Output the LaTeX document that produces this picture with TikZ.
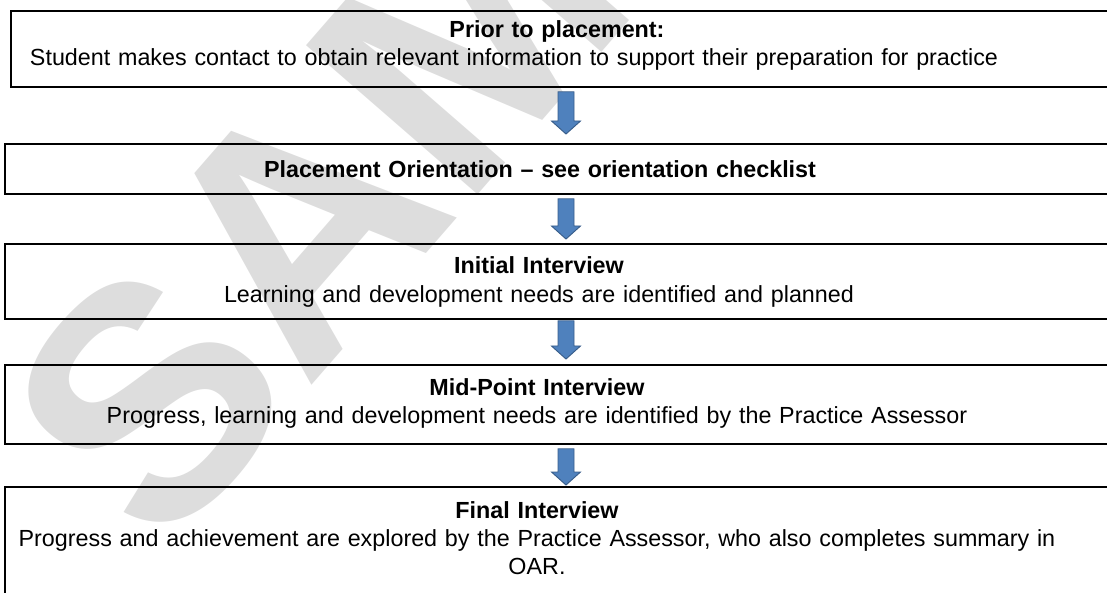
\documentclass[tikz,border=0pt]{standalone}
\usepackage{fontspec}
\setmainfont{Liberation Sans}
\usepackage{tikz}
\usetikzlibrary{calc, positioning}
\definecolor{Arrow-fill}{RGB}{79,129,189}
\definecolor{Arrow-edge}{RGB}{56,93,138}
\definecolor{Mark-gray}{RGB}{221,221,221}

\begin{document}
\begin{tikzpicture}[x=0.03cm, y=-0.03cm]
      \tikzset{ stage/.style ={draw=black, line width=1.5pt, rectangle, anchor=north west, minimum width=34cm, inner sep=0pt} }
      \tikzset{ stagetxt/.style={anchor=base, inner sep=0pt, align=center, text width=31.2cm, font=\fontsize{19.9}{23.9}\selectfont} }
      \tikzset{ wmark/.style ={text=Mark-gray, font=\fontsize{282}{282}\selectfont\bfseries, inner sep=0pt} }
      \tikzset{ blockarrow/.style={draw=Arrow-edge, fill=Arrow-fill, line width=0.8pt, line join=miter,
          to path={let \p1=(\tikztostart), \p2=(\tikztotarget) in
            (\x1-0.24cm,\y1) -- (\x1+0.24cm,\y1) -- (\x1+0.24cm,\y2+0.39cm) -- (\x1+0.435cm,\y2+0.39cm)
            -- (\x1,\y2) -- (\x1-0.435cm,\y2+0.39cm) -- (\x1-0.24cm,\y2+0.39cm) -- cycle}} }

      \path[use as bounding box] (0,0) rectangle (1107,593);

      % watermark behind everything
      \node[wmark, rotate=49] (sample) at (528,-36) {SAMPLE};

      \node[stage, minimum height=2.28cm] (prior)  at (10,10)  {};
      \node[stage, minimum height=1.50cm] (orient) at (4,143)  {};
      \node[stage, minimum height=2.25cm] (init)   at (4,243)  {};
      \node[stage, minimum height=2.37cm] (mid)    at (4,364)  {};
      \node[stage, minimum height=3.90cm] (final)  at (4,486)  {};

      \node[stagetxt] (priortxt)  at (514,38)  {\hspace*{2.58cm}\textbf{Prior to placement:}\\Student makes contact to obtain relevant information to support their preparation for practice};
      \node[stagetxt] (orienttxt) at (540,178) {\textbf{Placement Orientation – see orientation checklist}};
      \node[stagetxt] (inittxt)   at (539,274) {\textbf{Initial Interview}\\Learning and development needs are identified and planned};
      \node[stagetxt] (midtxt)    at (537,395) {\textbf{Mid-Point Interview}\\Progress, learning and development needs are identified by the Practice Assessor};
      \node[stagetxt] (finaltxt)  at (537,518) {\textbf{Final Interview}\\Progress and achievement are explored by the Practice Assessor, who also completes summary in\\OAR.};

      \coordinate (ax) at (566,0);
      \draw[blockarrow] ($(prior.south -| ax)+(0,4)$)  to ($(orient.north -| ax)+(0,-9)$);
      \draw[blockarrow] ($(orient.south -| ax)+(0,4)$) to ($(init.north -| ax)+(0,-4)$);
      \draw[blockarrow] ($(init.south -| ax)+(0,1)$)   to ($(mid.north -| ax)+(0,-5)$);
      \draw[blockarrow] ($(mid.south -| ax)+(0,4)$)    to ($(final.north -| ax)+(0,-1)$);
\end{tikzpicture}
\end{document}
